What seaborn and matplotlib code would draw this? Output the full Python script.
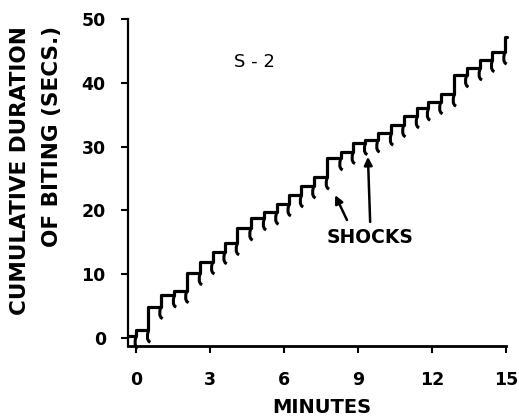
import numpy as np
import pandas as pd
import matplotlib
matplotlib.use("Agg")
import matplotlib.pyplot as plt
from matplotlib.path import Path
import seaborn as sns

# ---- data ----
start_minute = -0.3
start_level = 0.3
step_minutes = [0.0, 0.5, 1.0, 1.55, 2.05, 2.6, 3.1, 3.6, 4.1, 4.65, 5.2, 5.7,
                6.2, 6.7, 7.2, 7.75, 8.3, 8.8, 9.3, 9.8, 10.35, 10.85, 11.4,
                11.85, 12.35, 12.9, 13.4, 13.95, 14.45, 14.95]
level_after = [1.2, 4.9, 6.7, 7.4, 10.2, 11.9, 13.5, 14.9, 17.2, 18.8, 19.7,
               21.0, 22.4, 23.8, 25.2, 28.2, 29.2, 30.6, 31.0, 32.1, 33.4,
               34.8, 36.0, 37.0, 38.2, 41.2, 42.3, 43.6, 44.8, 47.2]
end_minute = 15.05
x_ticks = [0, 3, 6, 9, 12, 15]
y_ticks = [0, 10, 20, 30, 40, 50]
x_label = "MINUTES"
y_label_line1 = "CUMULATIVE DURATION"
y_label_line2 = "OF BITING (SECS.)"
panel_label = "S - 2"
shock_label = "SHOCKS"

# ---- build tables ----
trace = pd.DataFrame({
    "minute": [start_minute] + step_minutes + [end_minute],
    "seconds": [start_level] + level_after + [level_after[-1]],
})
shocks = pd.DataFrame({
    "minute": step_minutes,
    "seconds": [start_level] + level_after[:-1],
})

sns.set_theme(style="ticks")
plt.rcParams["font.family"] = ["DejaVu Sans"]
plt.rcParams["text.color"] = "black"
plt.rcParams["axes.labelcolor"] = "black"
plt.rcParams["xtick.color"] = "black"
plt.rcParams["ytick.color"] = "black"

fig = plt.figure(figsize=(5.19, 4.18), dpi=100)
ax = fig.add_axes([0.2466, 0.1722, 0.7284, 0.7823])

sns.lineplot(data=trace, x="minute", y="seconds", ax=ax, color="black",
             linewidth=2.3, drawstyle="steps-post", estimator=None, sort=False,
             clip_on=False)

# hook-shaped marker for the shock deflections
hook = Path([(0, 0), (-0.08, -0.35), (-0.08, -0.7), (0.02, -0.92), (0.16, -1.0)],
            [Path.MOVETO, Path.LINETO, Path.LINETO, Path.LINETO, Path.LINETO])
sns.scatterplot(data=shocks, x="minute", y="seconds", ax=ax, marker=hook,
                s=290, facecolor="none", edgecolor="black", linewidth=2.2,
                clip_on=False, zorder=3)

ax.set_xlim(-0.33, 15)
ax.set_ylim(-1.25, 50)
ax.set_xticks(x_ticks)
ax.set_yticks(y_ticks)
ax.set_xticklabels([str(v) for v in x_ticks])
ax.set_yticklabels([str(v) for v in y_ticks])
ax.tick_params(axis="both", direction="out", length=5, width=1.5,
               color="black", labelsize=12.5, labelcolor="black")
ax.tick_params(axis="x", pad=13)
ax.tick_params(axis="y", pad=11)
for lab in ax.get_xticklabels() + ax.get_yticklabels():
    lab.set_fontweight("bold")
sns.despine(ax=ax)
ax.spines["left"].set_linewidth(1.6)
ax.spines["bottom"].set_linewidth(2.0)
ax.spines["left"].set_color("black")
ax.spines["bottom"].set_color("black")
ax.set_xlabel("")
ax.set_ylabel("")

fig.text(0.62, 0.025, x_label, ha="center", va="center", fontsize=14,
         fontweight="bold")
fig.text(0.0385, 0.591, y_label_line1, rotation=90, ha="center", va="center",
         fontsize=15.5, fontweight="bold")
fig.text(0.100, 0.673, y_label_line2, rotation=90, ha="center", va="center",
         fontsize=15.5, fontweight="bold")

ax.text(4.8, 43.3, panel_label, ha="center", va="center", fontsize=13)
ax.text(9.5, 15.8, shock_label, ha="center", va="center", fontsize=13.5,
        fontweight="bold")
ax.annotate("", xy=(8.07, 22.4), xytext=(8.55, 18.5),
            arrowprops=dict(arrowstyle="-|>", color="black", lw=1.8,
                            mutation_scale=12, shrinkA=0, shrinkB=0))
ax.annotate("", xy=(9.40, 28.4), xytext=(9.49, 18.2),
            arrowprops=dict(arrowstyle="-|>", color="black", lw=1.8,
                            mutation_scale=12, shrinkA=0, shrinkB=0))

fig.savefig("out.png", dpi=100, facecolor="white")
